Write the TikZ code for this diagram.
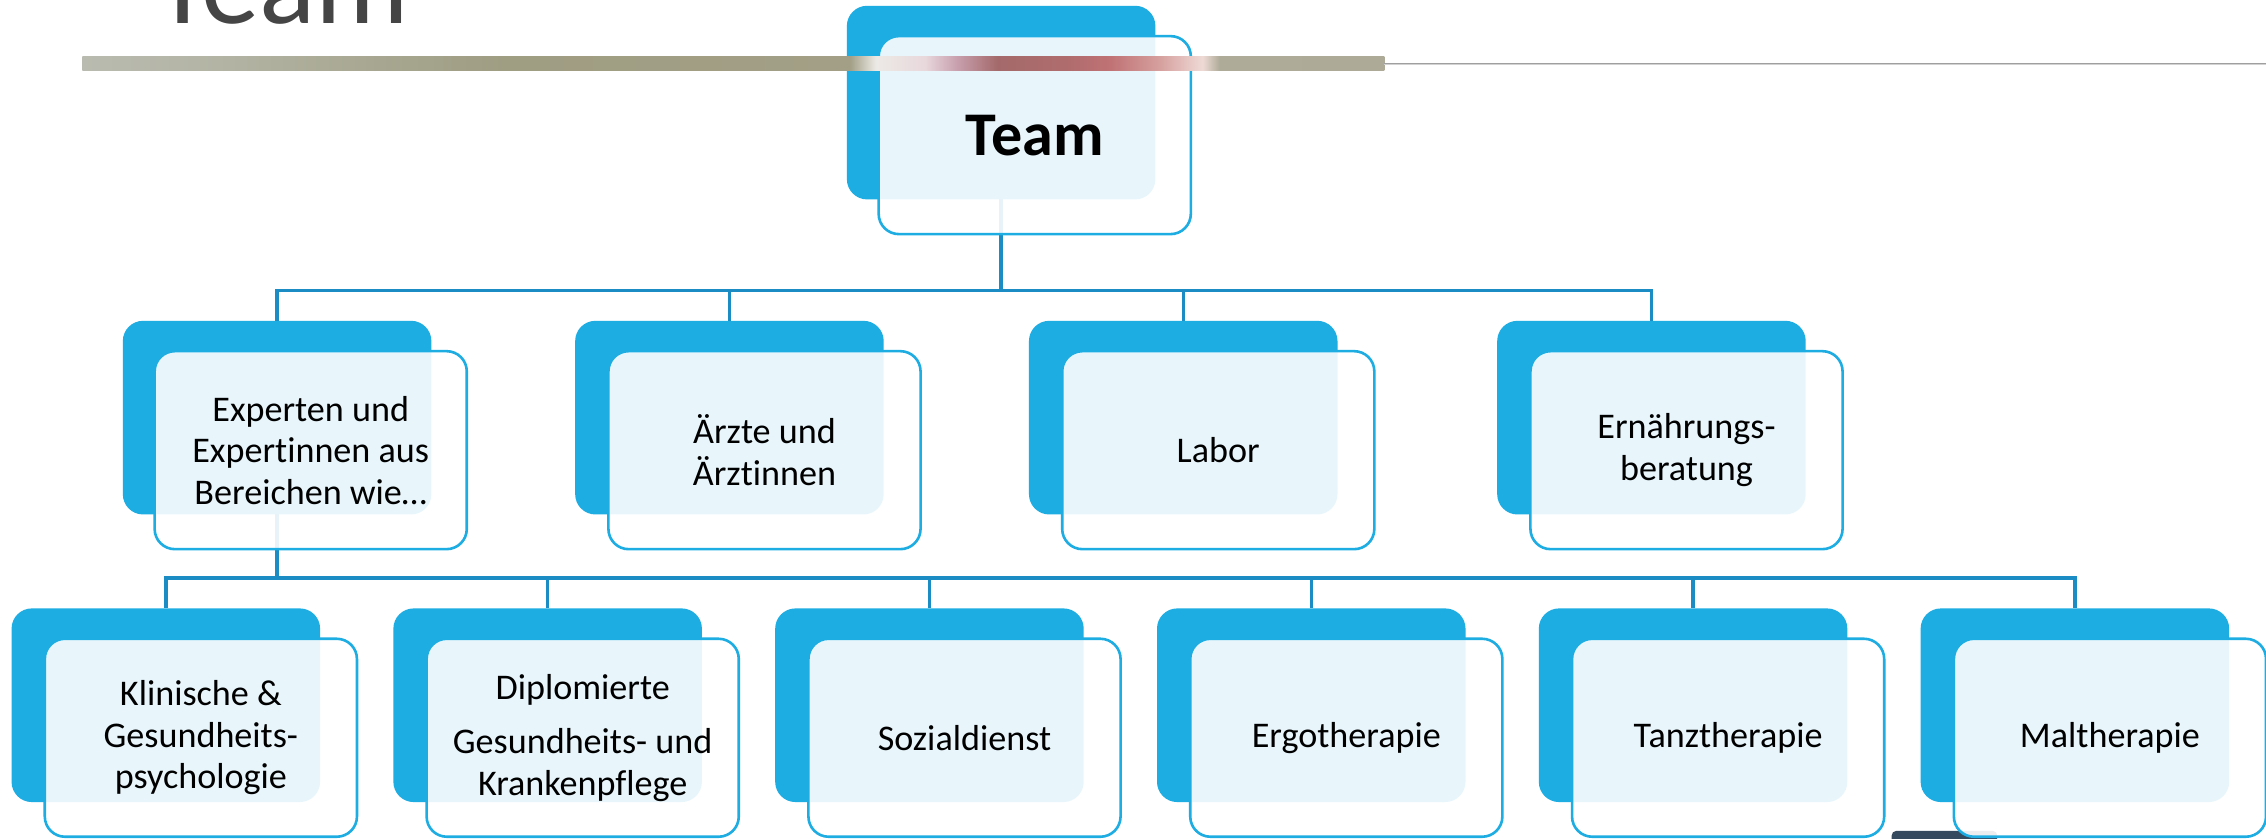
\documentclass[tikz,border=0pt]{standalone}
\usepackage{fontspec}
\setmainfont[Ligatures=NoCommon]{Carlito}
\definecolor{boxblue}{HTML}{1EADE3}
\definecolor{linkblue}{HTML}{1B8CC4}
\definecolor{titlegray}{HTML}{454545}
\definecolor{slate}{HTML}{34495E}
\definecolor{hA}{HTML}{B9BBB0}
\definecolor{hB}{HTML}{B3B4A4}
\definecolor{hC}{HTML}{A8A893}
\definecolor{hD}{HTML}{9F9D82}
\definecolor{hE}{HTML}{A29F86}
\definecolor{hF}{HTML}{ECEAE6}
\definecolor{hG}{HTML}{E8D8DC}
\definecolor{hH}{HTML}{C8A0AE}
\definecolor{hI}{HTML}{A46A6B}
\definecolor{hJ}{HTML}{B06C6D}
\definecolor{hK}{HTML}{C07274}
\definecolor{hL}{HTML}{D6A19F}
\definecolor{hM}{HTML}{EFDAD6}
\definecolor{hN}{HTML}{AEAB99}
\definecolor{hO}{HTML}{ADAA98}
\pgfdeclarehorizontalshading{headbar}{100bp}{%
 color(0bp)=(hA); color(25bp)=(hA); color(30.16bp)=(hB); color(35.71bp)=(hC);
 color(41.26bp)=(hD); color(54.47bp)=(hE); color(55.47bp)=(hF); color(57.35bp)=(hG);
 color(58.57bp)=(hH); color(60.13bp)=(hI); color(62.9bp)=(hJ); color(64.46bp)=(hK);
 color(66.4bp)=(hL); color(68.01bp)=(hM); color(68.67bp)=(hN); color(75bp)=(hO);
 color(100bp)=(hO)}
\newcommand\orgbodyfont{\fontsize{25}{28.7}\selectfont}
\tikzset{
 darkbox/.style={rectangle, rounded corners=14pt, fill=boxblue, minimum width=213.5pt,
   minimum height=134pt, inner sep=0pt, outer sep=0pt, anchor=north west},
 frontbox/.style={rectangle, rounded corners=14pt, draw=boxblue, line width=1.8pt,
   fill=white, fill opacity=0.9, text opacity=1, minimum width=216pt, minimum height=137pt,
   inner sep=0pt, outer sep=0pt, anchor=north west, align=center, font=\orgbodyfont},
 conn/.style={draw=linkblue, line width=2.4pt},
}
\begin{document}
\begin{tikzpicture}[x=1pt,y=-1pt]
\clip (0,0) rectangle (1568,579.9);
\fill[white] (0,0) rectangle (1568,579.9);
% title (cut off by the top edge, as in the reference)
\node[anchor=base west, inner sep=0pt, outer sep=0pt, text=titlegray,
  font=\fontsize{81}{86}\selectfont] (title) at (107,16) {Team};
% back boxes
\node[darkbox] (teamd) at (586,4) {};
\node[darkbox] (expd) at (85,222) {};
\node[darkbox] (arzd) at (398,222) {};
\node[darkbox] (labd) at (712,222) {};
\node[darkbox] (ernd) at (1036,222) {};
\node[darkbox] (klind) at (8,421) {};
\node[darkbox] (dipd) at (272.2,421) {};
\node[darkbox] (sozd) at (536.4,421) {};
\node[darkbox] (ergd) at (800.6,421) {};
\node[darkbox] (tanzd) at (1064.8,421) {};
\node[darkbox] (mald) at (1329,421) {};
% connectors
\coordinate (busA) at (0,201);
\coordinate (busB) at (0,400);
\foreach \c in {expd,arzd,labd,ernd}
  \draw[conn] (teamd.south) -- (teamd.south |- busA) -| (\c.north);
\foreach \c in {klind,dipd,sozd,ergd,tanzd,mald}
  \draw[conn] (expd.south) -- (expd.south |- busB) -| (\c.north);
% partly visible shape at the bottom edge
\fill[slate, rounded corners=3pt] (1309,575) rectangle (1382,586);
% front boxes
\node[frontbox] (teamf) at (608,25) {\fontsize{43}{50}\selectfont\bfseries Team};
\node[frontbox] (expf) at (107,243) {Experten und\\Expertinnen aus\\Bereichen wie…};
\node[frontbox] (arzf) at (421,243) {Ärzte und\\Ärztinnen};
\node[frontbox] (labf) at (735,243) {Labor};
\node[frontbox] (ernf) at (1059,243) {Ernährungs-\\beratung};
\node[frontbox] (klinf) at (31,442) {Klinische \&\\Gesundheits-\\psychologie};
\node[frontbox] (dipf) at (295.2,442) {Diplomierte\\[9pt]Gesundheits- und\\Krankenpflege};
\node[frontbox] (sozf) at (559.4,442) {Sozialdienst};
\node[frontbox] (ergf) at (823.6,442) {Ergotherapie};
\node[frontbox] (tanzf) at (1087.8,442) {Tanztherapie};
\node[frontbox] (malf) at (1352,442) {Maltherapie};
% header bar and rule
\shade[shading=headbar] (57,39) rectangle (958,49);
\draw[draw=gray!75, line width=1pt] (958,43.8) -- (1568,43.8);
\draw[draw=gray!35, line width=0.7pt] (958,44.9) -- (1568,44.9);
\end{tikzpicture}
\end{document}
